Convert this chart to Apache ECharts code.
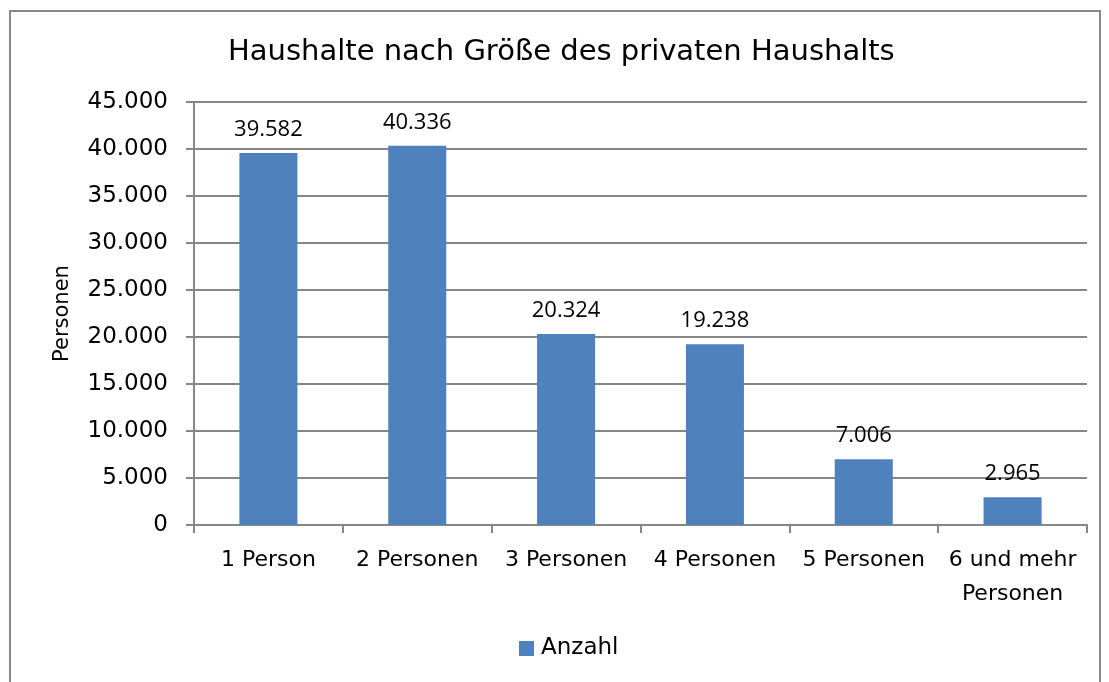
<!DOCTYPE html>
<html><head><meta charset="utf-8">
<script src="https://cdn.jsdelivr.net/npm/echarts@6/dist/echarts.min.js"></script>
<style>html,body{margin:0;padding:0;background:#fff}#c{width:1109px;height:682px}</style>
</head><body><div id="c"></div>
<script>
const categories = ['1 Person', '2 Personen', '3 Personen', '4 Personen', '5 Personen', '6 und mehr\nPersonen'];
const values = [39582, 40336, 20324, 19238, 7006, 2965];
const seriesName = 'Anzahl';
const titleText = 'Haushalte nach Größe des privaten Haushalts';
const yName = 'Personen';

const fmt = v => String(v).replace(/\B(?=(\d{3})+(?!\d))/g, '.');
const chart = echarts.init(document.getElementById('c'));
const axisFont = '"DejaVu Sans", sans-serif';
chart.setOption({
  animation: false,
  graphic: [{type:'rect', shape:{x:10, y:11, width:1090, height:700}, style:{fill:'none', stroke:'#888', lineWidth:2}}],
  title: {text: titleText, left: 228, top: 38, padding: 0, textStyle:{fontFamily: axisFont, fontSize: 29, fontWeight: 'normal', color:'#000'}},
  legend: {bottom: 17, left: 514, itemWidth: 15, itemHeight: 15, icon: 'rect', itemGap: 4,
    textStyle:{fontFamily: axisFont, fontSize: 23, color:'#000', padding:[0,0,0,2]}, data:[seriesName]},
  grid: {left: 194, right: 22, top: 102, bottom: 157},
  xAxis: {type:'category', data: categories,
    axisLine:{lineStyle:{color:'#868686', width:2}},
    axisTick:{show:true, length:8, lineStyle:{color:'#868686', width:2}},
    axisLabel:{fontFamily: axisFont, fontSize: 22, color:'#000', margin: 18, lineHeight: 34, interval: 0}},
  yAxis: {type:'value', min:0, max:45000, interval:5000, name: yName, nameLocation:'middle', nameGap: 121,
    nameTextStyle:{fontFamily: axisFont, fontSize: 21, color:'#000'},
    axisLine:{show:true, lineStyle:{color:'#868686', width:2}},
    axisTick:{show:true, length:8, lineStyle:{color:'#868686', width:2}},
    splitLine:{lineStyle:{color:'#868686', width:2}},
    axisLabel:{fontFamily: axisFont, fontSize: 23, color:'#000', margin: 26, formatter: v => fmt(v)}},
  series: [{type:'bar', name: seriesName, data: values, barWidth: '39%',
    itemStyle:{color:'#4f81bd'},
    label:{show:true, position:'top', distance: 12, fontFamily:'"Open Sans", "Liberation Sans", sans-serif', fontSize: 22, color:'#000', formatter: p => fmt(p.value)}}]
});
</script></body></html>
